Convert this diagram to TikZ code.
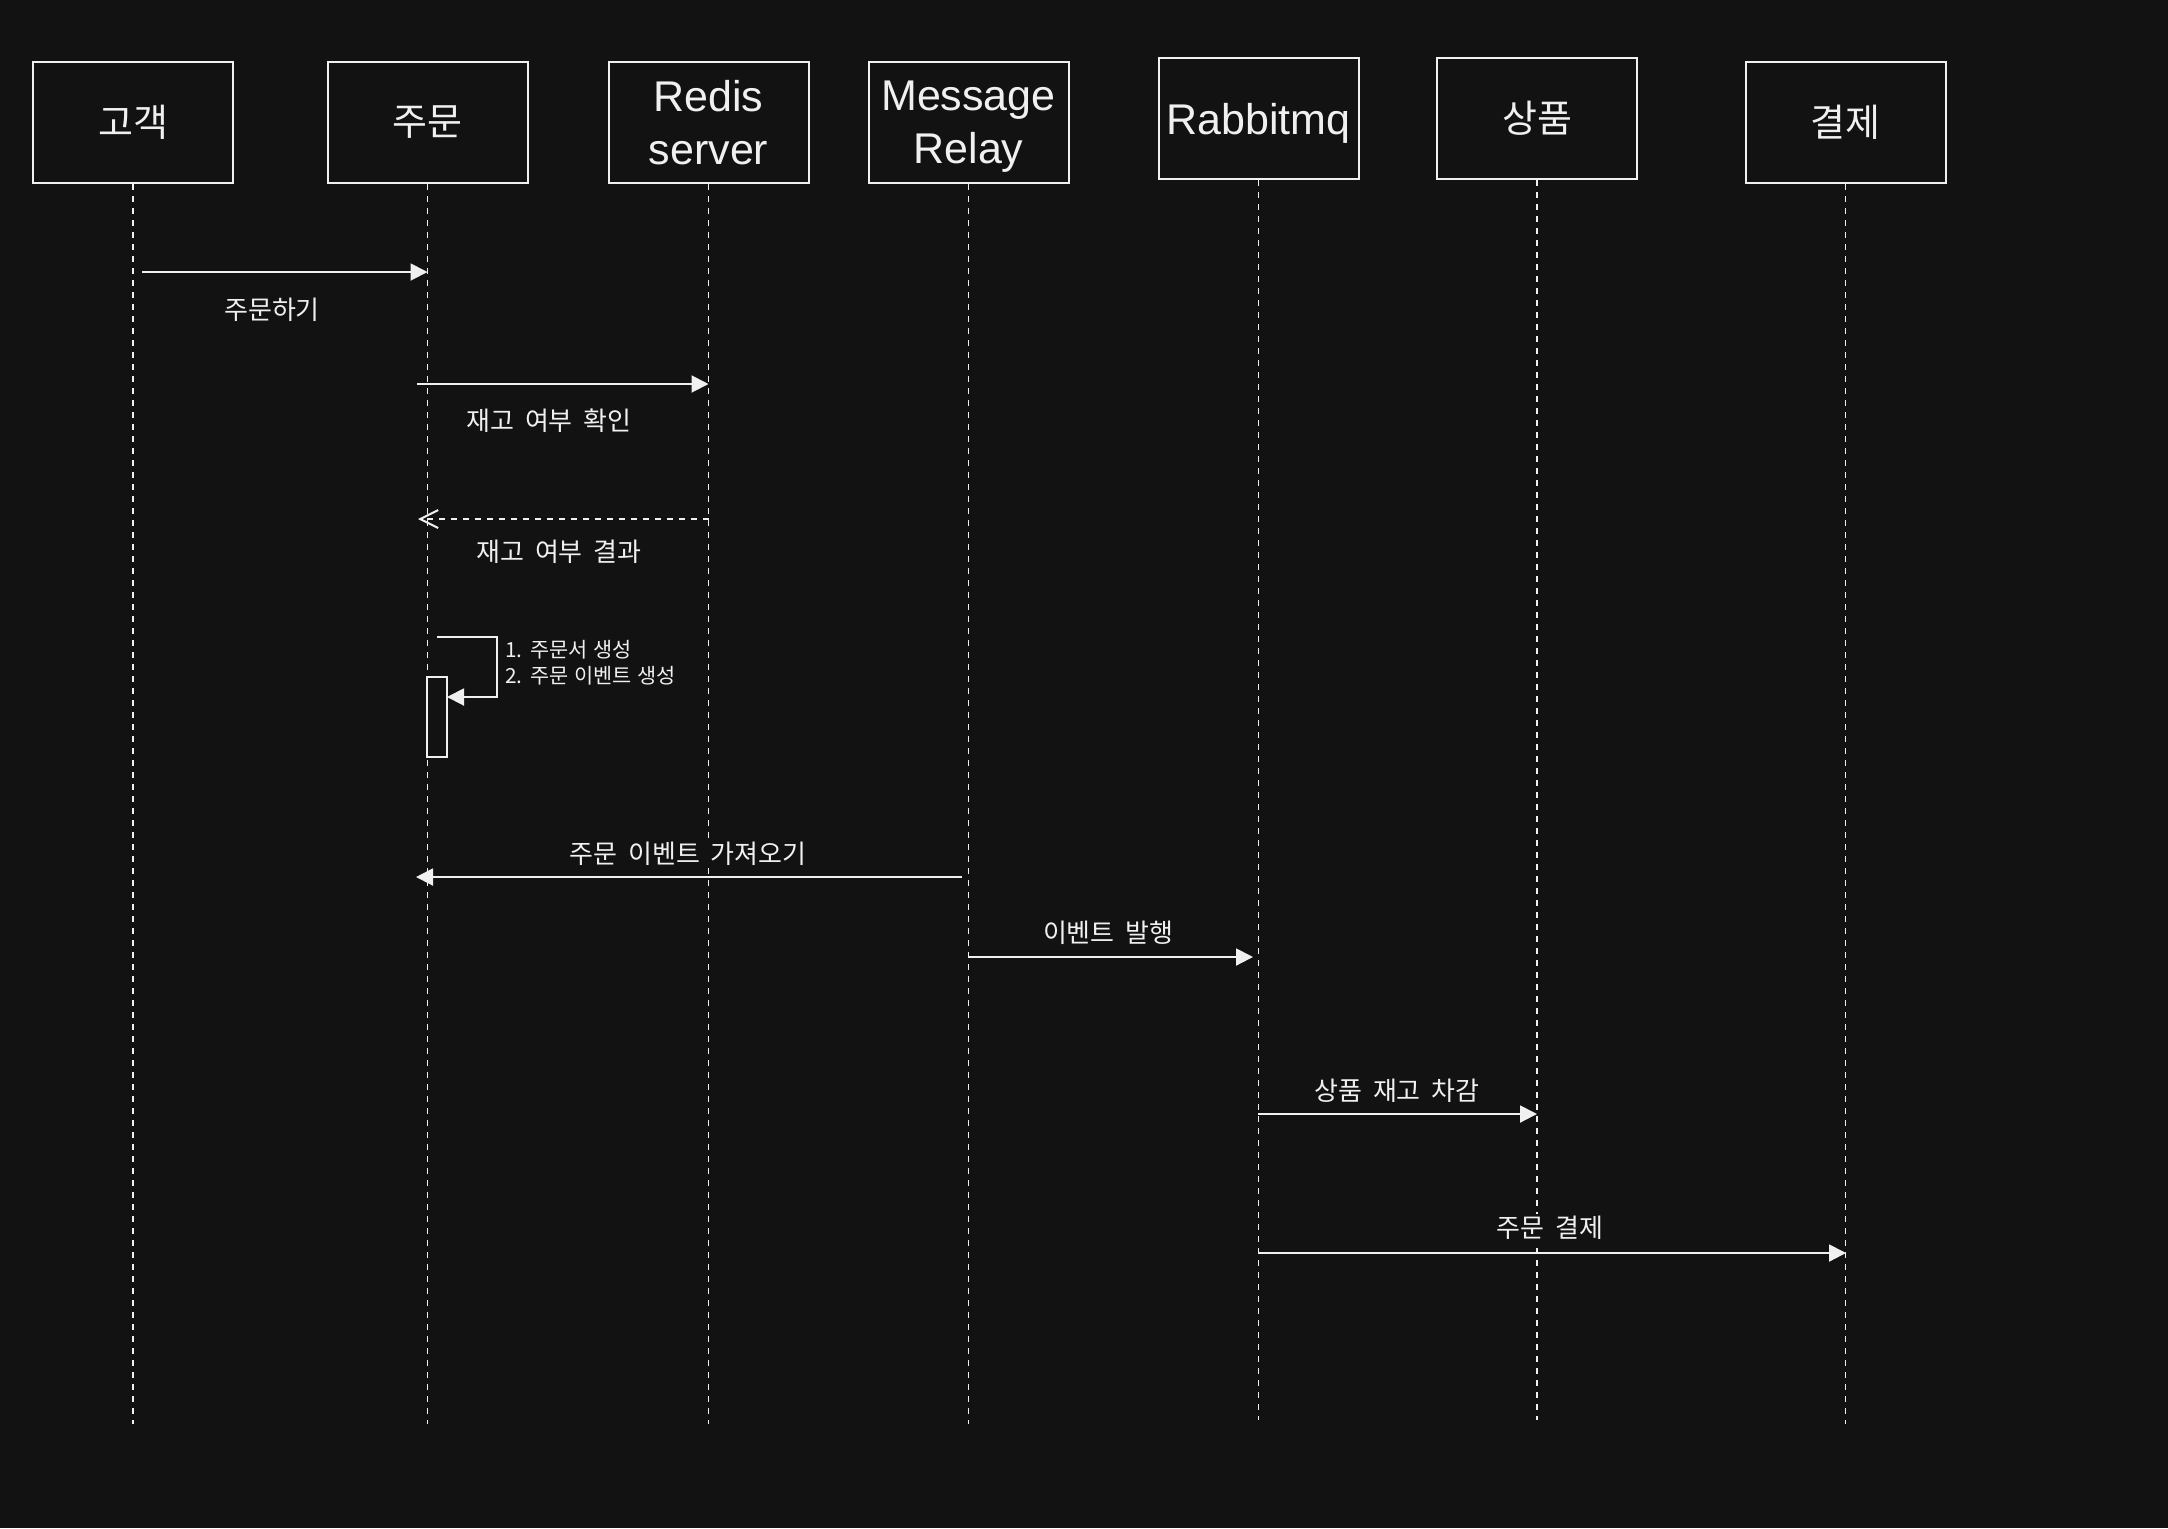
\documentclass[tikz,border=0pt]{standalone}
\usepackage{fontspec}
\setmainfont{Liberation Sans}
\newfontfamily\kr{Noto Sans CJK KR}
\usetikzlibrary{arrows.meta}
\definecolor{bg}{HTML}{121212}
\definecolor{fg}{HTML}{F0F0F0}
\newcommand\lblfont{\kr\fontsize{13}{15}\selectfont\spaceskip 0.4em\relax}
\newcommand\notefont{\kr\fontsize{10.4}{13}\selectfont\spaceskip 0.28em\relax}
\begin{document}
\begin{tikzpicture}[x=0.5pt,y=-0.5pt,
 boxbase/.style={draw=fg, line width=1pt, fill=bg, minimum width=100pt, minimum height=60.5pt, inner sep=0pt, text=fg, align=center},
 head/.style={boxbase, text depth=0pt, font=\fontsize{21.5}{26.5}\selectfont},
 khead/.style={boxbase, font=\kr\fontsize{19}{24}\selectfont},
 life/.style={draw=fg, line width=0.8pt, dash pattern=on 3pt off 3pt},
 msg/.style={draw=fg, line width=1pt, -{Triangle[length=8.5pt,width=8.5pt]}},
 ret/.style={draw=fg, line width=1pt, dash pattern=on 3pt off 3pt, -{Straight Barb[length=9pt,width=9pt]}},
 lbl/.style={text=fg, fill=bg, inner sep=1pt, font=\lblfont},
 note/.style={text=fg, font=\notefont, inner sep=0pt, anchor=base west},
 actbox/.style={draw=fg, fill=bg, line width=1pt, minimum width=10pt, minimum height=40pt, inner sep=0pt},
]
\fill[bg] (0,0) rectangle (2168,1528);
\useasboundingbox (0,0) rectangle (2168,1528);

% headers
\node[khead] (h1) at (133,122.5) {고객};
\node[khead] (h2) at (427.5,122.5) {주문};
\node[head]  (h3) at (708.5,122.5) {Redis\\server};
\node[head]  (h4) at (968.5,122.5) {Message\\Relay};
\node[head]  (h5) at (1258.5,118.5) {Rabbitmq};
\node[khead] (h6) at (1537,118.5) {상품};
\node[khead] (h7) at (1845.5,122.5) {결제};

% lifeline ends
\path (h1.south) ++(0,1240) coordinate (e1);
\path (h2.south) ++(0,1240) coordinate (e2);
\path (h3.south) ++(0,1240) coordinate (e3);
\path (h4.south) ++(0,1240) coordinate (e4);
\path (h5.south) ++(0,1240) coordinate (e5);
\path (h6.south) ++(0,1240) coordinate (e6);
\path (h7.south) ++(0,1240) coordinate (e7);

\foreach \i in {1,...,7} { \draw[life] (h\i.south) -- (e\i); }

% activation
\node[actbox] (act) at (437,717) {};

% message points
\coordinate (m1a) at (142,272);   \coordinate (m1b) at (427.5,272);
\coordinate (m2a) at (417,384);   \coordinate (m2b) at (708.5,384);
\coordinate (m3a) at (708.5,519); \coordinate (m3b) at (418,519);
\coordinate (s0) at (437,637); \coordinate (s1) at (497,637);
\coordinate (s2) at (497,697); \coordinate (s3) at (447,697);
\coordinate (m5a) at (962,877);   \coordinate (m5b) at (416,877);
\coordinate (m6a) at (968,957);   \coordinate (m6b) at (1253,957);
\coordinate (m7a) at (1258,1114); \coordinate (m7b) at (1537,1114);
\coordinate (m8a) at (1258,1253); \coordinate (m8b) at (1846,1253);

\draw[msg] (m1a) -- (m1b);
\draw[msg] (m2a) -- (m2b);
\draw[ret] (m3a) -- (m3b);
\draw[msg] (s0) -- (s1) -- (s2) -- (s3);
\draw[msg] (m5a) -- (m5b);
\draw[msg] (m6a) -- (m6b);
\draw[msg] (m7a) -- (m7b);
\draw[msg] (m8a) -- (m8b);

% labels
\node[lbl] (l1) at (272,310) {주문하기};
\node[lbl] (l2) at (549,421) {재고 여부 확인};
\node[lbl] (l3) at (559,552) {재고 여부 결과};
\node[note] (n1) at (505,657) {1. 주문서 생성};
\node[note] (n2) at (505,683) {2. 주문 이벤트 생성};
\node[lbl] (l5) at (688,854) {주문 이벤트 가져오기};
\node[lbl] (l6) at (1108,933) {이벤트 발행};
\node[lbl] (l7) at (1397,1091) {상품 재고 차감};
\node[lbl] (l8) at (1550,1228) {주문 결제};
\end{tikzpicture}
\end{document}
